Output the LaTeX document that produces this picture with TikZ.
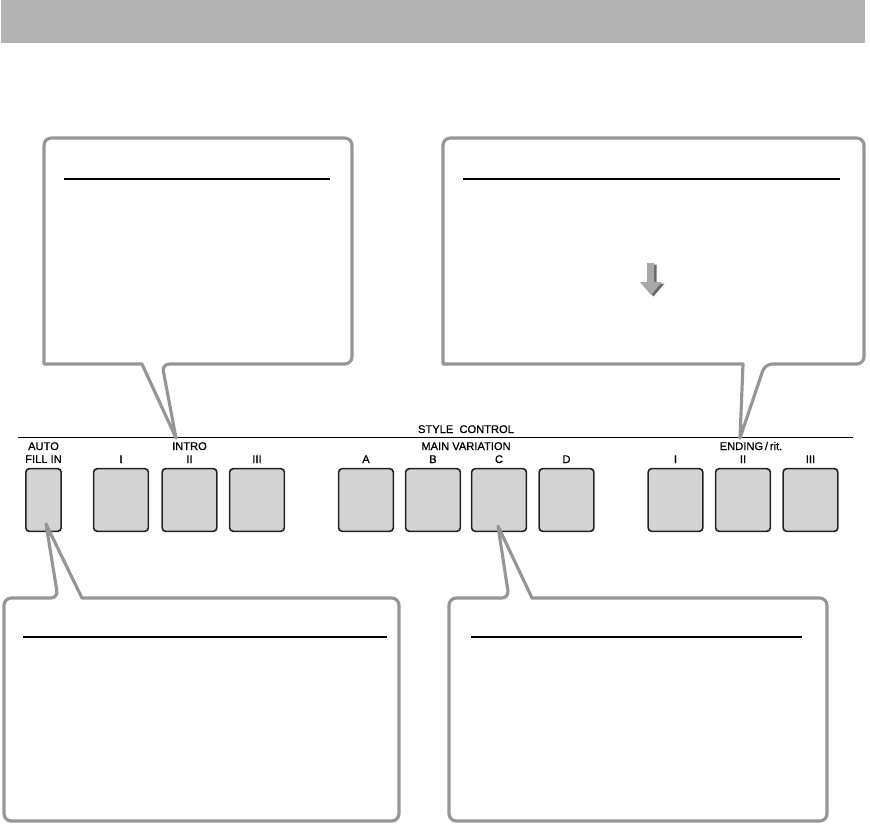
\documentclass[tikz,border=0pt]{standalone}
\usepackage{fontspec}
\setmainfont{Liberation Sans}
\newfontfamily\panelfont[FakeBold=0.7]{Liberation Sans}
\usepackage{tikz}
\definecolor{bargray}{RGB}{179,179,179}
\definecolor{bubblegray}{RGB}{150,150,150}
\definecolor{padgray}{RGB}{211,211,211}
\definecolor{padedge}{RGB}{35,35,35}
\definecolor{arrowgray}{RGB}{168,168,168}
\definecolor{arrowshade}{RGB}{105,105,105}

\begin{document}
\begin{tikzpicture}[
  x=0.03cm, y=-0.03cm,
  pad/.style={draw=padedge, fill=padgray, line width=1.4pt, rounded corners=3pt,
              minimum width=1.64cm, minimum height=1.88cm, inner sep=0pt},
  narrowpad/.style={pad, minimum width=1.06cm},
  bubble/.style={draw=bubblegray, fill=white, line width=2.7pt, line join=round},
  headline/.style={line width=1.7pt},
  lbl/.style={font=\panelfont\fontsize{9.5}{11}\selectfont, inner sep=0pt,
              anchor=base, align=center}
]
  \useasboundingbox (0,0) rectangle (870,827);
  \fill[bargray] (1,0) rectangle (865,43);
  \draw[line width=0.85pt] (18,437) -- (853,437);

  % pads
  \node[narrowpad] (fill) at (43.5,500) {};
  \node[pad] (intro1) at (121,500) {};
  \node[pad] (intro2) at (189.5,500) {};
  \node[pad] (intro3) at (257,500) {};
  \node[pad] (varA) at (366,500) {};
  \node[pad] (varB) at (433,500) {};
  \node[pad] (varC) at (499,500) {};
  \node[pad] (varD) at (566.5,500) {};
  \node[pad] (end1) at (675.5,500) {};
  \node[pad] (end2) at (743,500) {};
  \node[pad] (end3) at (810.5,500) {};

  % panel labels
  \node[lbl] (style) at (466,433) {STYLE\ \ CONTROL};
  \node[lbl, anchor=north] (auto) at (43.5,442) {AUTO\\FILL IN};
  \node[lbl] (intro) at (189.5,450) {INTRO};
  \node[lbl] (main) at (466,450) {MAIN\ VARIATION};
  \node[lbl] (ending) at (751,450) {ENDING\,/\,rit.};
  \node[lbl] at (121,463) {I};
  \node[lbl] at (189.5,463) {II};
  \node[lbl] at (257,463) {III};
  \node[lbl] at (366,463) {A};
  \node[lbl] at (433,463) {B};
  \node[lbl] at (499,463) {C};
  \node[lbl] at (566.5,463) {D};
  \node[lbl] at (675.5,463) {I};
  \node[lbl] at (743,463) {II};
  \node[lbl] at (810.5,463) {III};

  % callouts
  \draw[bubble] (200,138) [rounded corners=0.22cm] -- (352,138) -- (352,364)
    -- (162,364) [sharp corners] -- (176,438) -- (142,364) -- (44,364)
    [rounded corners=0.22cm] -- (44,138) -- cycle;
  \draw[bubble] (600,138) [rounded corners=0.22cm] -- (864,138) -- (864,364)
    -- (765,364) [sharp corners] -- (740,438) -- (743,364) -- (443,364)
    [rounded corners=0.22cm] -- (443,138) -- cycle;
  \draw[bubble] (200,598) [rounded corners=0.22cm] -- (399,598) -- (399,821)
    -- (4,821) -- (4,598) -- (58,598) [sharp corners] -- (46,524) -- (82,598)
    [rounded corners=0.22cm] -- cycle;
  \draw[bubble] (650,598) [rounded corners=0.22cm] -- (827,598) -- (827,821)
    -- (449,821) -- (449,598) -- (509,598) [sharp corners] -- (498,526) -- (532,598)
    [rounded corners=0.22cm] -- cycle;

  \draw[headline] (64,179) -- (330,179);
  \draw[headline] (463,179) -- (840,179);
  \draw[headline] (23,637) -- (387,637);
  \draw[headline] (471,637) -- (802,637);

  % arrow
  \fill[arrowshade, shift={(2.5,1.5)}] (647,263) -- (654,263) -- (654,282) -- (662,282)
    -- (651,295) -- (640,282) -- (647,282) -- cycle;
  \fill[arrowgray] (647,263) -- (654,263) -- (654,282) -- (662,282)
    -- (651,295) -- (640,282) -- (647,282) -- cycle;
\end{tikzpicture}
\end{document}
